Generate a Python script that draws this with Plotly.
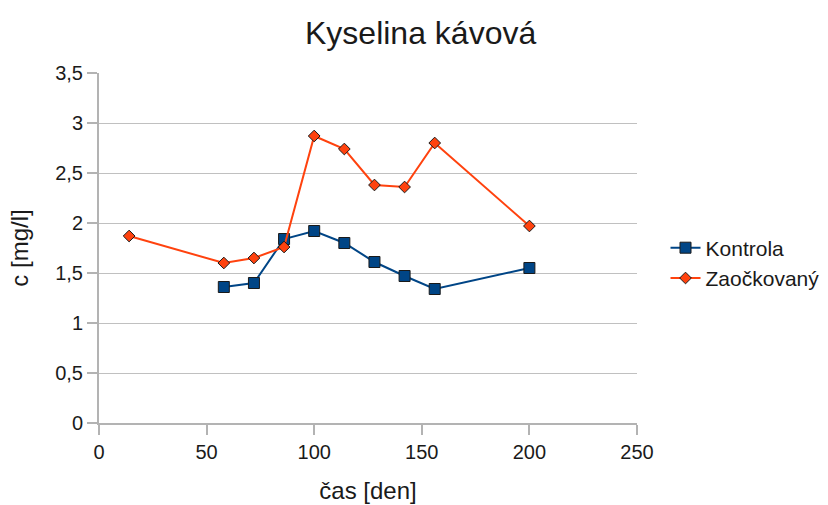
import plotly.graph_objects as go

# Sampling days and measured caffeic acid concentrations
days_kontrola = [58, 72, 86, 100, 114, 128, 142, 156, 200]
kontrola = [1.36, 1.40, 1.84, 1.92, 1.80, 1.61, 1.47, 1.34, 1.55]

days_zaockovany = [14, 58, 72, 86, 100, 114, 128, 142, 156, 200]
zaockovany = [1.87, 1.60, 1.65, 1.76, 2.87, 2.74, 2.38, 2.36, 2.80, 1.97]

y_ticks = [0, 0.5, 1, 1.5, 2, 2.5, 3, 3.5]
x_ticks = [0, 50, 100, 150, 200, 250]

FONT = "Liberation Sans, Arial, sans-serif"
TEXT = "#1a1a1a"
AXIS_GRAY = "#b3b3b3"

fig = go.Figure()
fig.add_trace(go.Scatter(
    x=days_kontrola, y=kontrola, name="Kontrola", mode="lines+markers",
    line=dict(color="#004586", width=2),
    marker=dict(symbol="square", size=11, color="#004586",
                line=dict(color="#1a1a1a", width=1)),
))
fig.add_trace(go.Scatter(
    x=days_zaockovany, y=zaockovany, name="Zaočkovaný", mode="lines+markers",
    line=dict(color="#ff420e", width=2),
    marker=dict(symbol="diamond", size=9, color="#ff420e",
                line=dict(color="#1a1a1a", width=1)),
))

fig.update_layout(
    width=828, height=505,
    margin=dict(l=99, r=191, t=73, b=82, autoexpand=False),
    paper_bgcolor="white", plot_bgcolor="white",
    separators=", ",
    font=dict(family=FONT, size=20, color=TEXT),
    title=dict(text="Kyselina kávová", x=0.508, xanchor="center",
               y=0.935, yanchor="middle",
               font=dict(family=FONT, size=32, color=TEXT)),
    legend=dict(x=1.053, y=0.457, xanchor="left", yanchor="middle",
                font=dict(family=FONT, size=21, color=TEXT),
                tracegroupgap=0, itemwidth=30, bgcolor="rgba(0,0,0,0)"),
    showlegend=True,
)

fig.update_xaxes(
    range=[0, 250], tickvals=x_ticks, showgrid=False, zeroline=False,
    showline=True, linecolor=AXIS_GRAY, linewidth=2,
    ticks="outside", ticklen=10, tickcolor=AXIS_GRAY, tickwidth=2,
    tickfont=dict(family=FONT, size=20, color=TEXT),
    title=dict(text="čas [den]", standoff=20,
               font=dict(family=FONT, size=24, color=TEXT)),
)
fig.update_yaxes(
    range=[0, 3.5], tickvals=y_ticks, showgrid=True, gridcolor="#c0c0c0",
    gridwidth=1, zeroline=False,
    showline=True, linecolor=AXIS_GRAY, linewidth=2,
    ticks="outside", ticklen=10, tickcolor=AXIS_GRAY, tickwidth=2,
    tickfont=dict(family=FONT, size=20, color=TEXT),
    title=dict(text="c [mg/l]", standoff=20,
               font=dict(family=FONT, size=24, color=TEXT)),
)

fig.write_html("out.html")
